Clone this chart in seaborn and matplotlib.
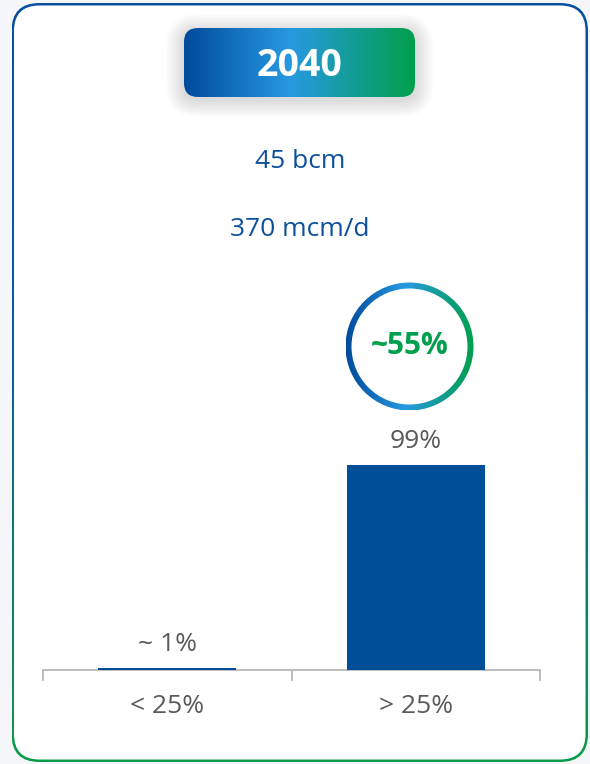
import numpy as np
import matplotlib
matplotlib.use("Agg")
import matplotlib.pyplot as plt
from matplotlib.patches import FancyBboxPatch, Wedge
from matplotlib.colors import LinearSegmentedColormap
import seaborn as sns

# Share of volume by category
categories = ["< 25%", "> 25%"]
shares = [1, 99]
share_labels = ["~ 1%", "99%"]

# Header content
year = "2040"
volume_lines = ["45 bcm", "370 mcm/d"]
highlight = "~55%"

BAR_BLUE = "#014e98"
TEXT_BLUE = "#0d4f9c"
GREY_TEXT = "#595959"
AXIS_GREY = "#b3b3b3"
GREEN = "#009f4d"
GRAD_H = [(0.0, "#004b9b"), (0.46, "#2799e2"), (1.0, "#00a04b")]
GRAD_V = [(0.0, "#0a4f9f"), (0.45, "#0a5aa0"), (1.0, "#0a9c48")]

sns.set_theme(style="white")
plt.rcParams["font.family"] = ["Open Sans", "DejaVu Sans"]

W, H = 590, 764
fig = plt.figure(figsize=(W / 100, H / 100), dpi=100)
fig.patch.set_facecolor("#f4f6f9")


def pixel_axes(z):
    a = fig.add_axes([0, 0, 1, 1], zorder=z)
    a.set_xlim(0, W)
    a.set_ylim(H, 0)
    a.axis("off")
    a.patch.set_alpha(0)
    return a


def rounded(a, x0, y0, x1, y1, r, **kw):
    p = FancyBboxPatch((x0, y0), x1 - x0, y1 - y0,
                       boxstyle=f"round,pad=0,rounding_size={r}", **kw)
    a.add_patch(p)
    return p


def gradient_fill(a, clip, extent, stops, vertical=False, z=1):
    cmap = LinearSegmentedColormap.from_list("grad", stops)
    g = np.linspace(0, 1, 256)
    arr = g[:, None] if vertical else g[None, :]
    im = a.imshow(arr, cmap=cmap, extent=extent, aspect="auto",
                  interpolation="bilinear", zorder=z)
    im.set_clip_path(clip)
    a.set_xlim(0, W)
    a.set_ylim(H, 0)
    return im


# Card with gradient border
bg = pixel_axes(0)
outer = rounded(bg, 11.5, 3, 588, 762, 28, facecolor="none", edgecolor="none")
gradient_fill(bg, outer, (11.5, 588, 762, 3), GRAD_V, vertical=True, z=1)
rounded(bg, 14, 5.5, 585.5, 759.5, 25.5, facecolor="white", edgecolor="none", zorder=2)

# Bar chart
ax = fig.add_axes([43 / W, 1 - 670 / H, (540 - 43) / W, 290 / H], zorder=1)
ax.patch.set_alpha(0)
sns.barplot(x=categories, y=shares, color=BAR_BLUE, saturation=1,
            width=0.555, ax=ax, linewidth=0)
for bar in ax.patches:
    bar.set_zorder(4)
    bar.set_clip_on(False)
ax.set_xlim(-0.5, 1.5)
ax.set_ylim(0, 140)
ax.bar_label(ax.containers[0], labels=share_labels, padding=8,
             fontsize=19, color=GREY_TEXT)
for s in ["left", "top", "right"]:
    ax.spines[s].set_visible(False)
ax.spines["bottom"].set_color(AXIS_GREY)
ax.spines["bottom"].set_linewidth(1.2)
ax.spines["bottom"].set_zorder(1)
ax.set_yticks([])
ax.set_xticks([0, 1])
ax.set_xticklabels(categories)
ax.set_xticks([-0.5, 0.5, 1.5], minor=True)
ax.tick_params(axis="x", which="major", length=0, pad=17,
               labelsize=19, labelcolor=GREY_TEXT)
ax.tick_params(axis="x", which="minor", length=8, width=1.2,
               color=AXIS_GREY, direction="out", bottom=True)
ax.set_xlabel("")
ax.set_ylabel("")

# Header, volumes and highlight ring
fg = pixel_axes(2)
for i in range(12):
    pad = 1.5 * (i + 1)
    rounded(fg, 184 - pad, 30 - pad + 2, 415 + pad, 97 + pad + 2, 14 + pad,
            facecolor="#000000", edgecolor="none", alpha=0.012, zorder=1)
badge = rounded(fg, 184, 28, 415, 97, 14, facecolor="none", edgecolor="none", zorder=2)
gradient_fill(fg, badge, (184, 415, 97, 28), GRAD_H, z=2)
fg.text(300, 66, year, ha="center", va="center", color="white",
        fontsize=27, fontweight="bold", zorder=3)

fg.text(300, 162, volume_lines[0], ha="center", va="center",
        color=TEXT_BLUE, fontsize=19, zorder=3)
fg.text(300, 229, volume_lines[1], ha="center", va="center",
        color=TEXT_BLUE, fontsize=19, zorder=3)

cx, cy, r = 409.5, 346.5, 64
ring = Wedge((cx, cy), r, 0, 360, width=6, facecolor="none", edgecolor="none")
fg.add_patch(ring)
gradient_fill(fg, ring, (cx - r, cx + r, cy + r, cy - r), GRAD_H, z=2)
fg.text(cx, cy - 1, highlight, ha="center", va="center", color=GREEN,
        fontsize=21.5, fontweight="bold", zorder=3)

fig.savefig("out.png", dpi=100, facecolor=fig.get_facecolor())
